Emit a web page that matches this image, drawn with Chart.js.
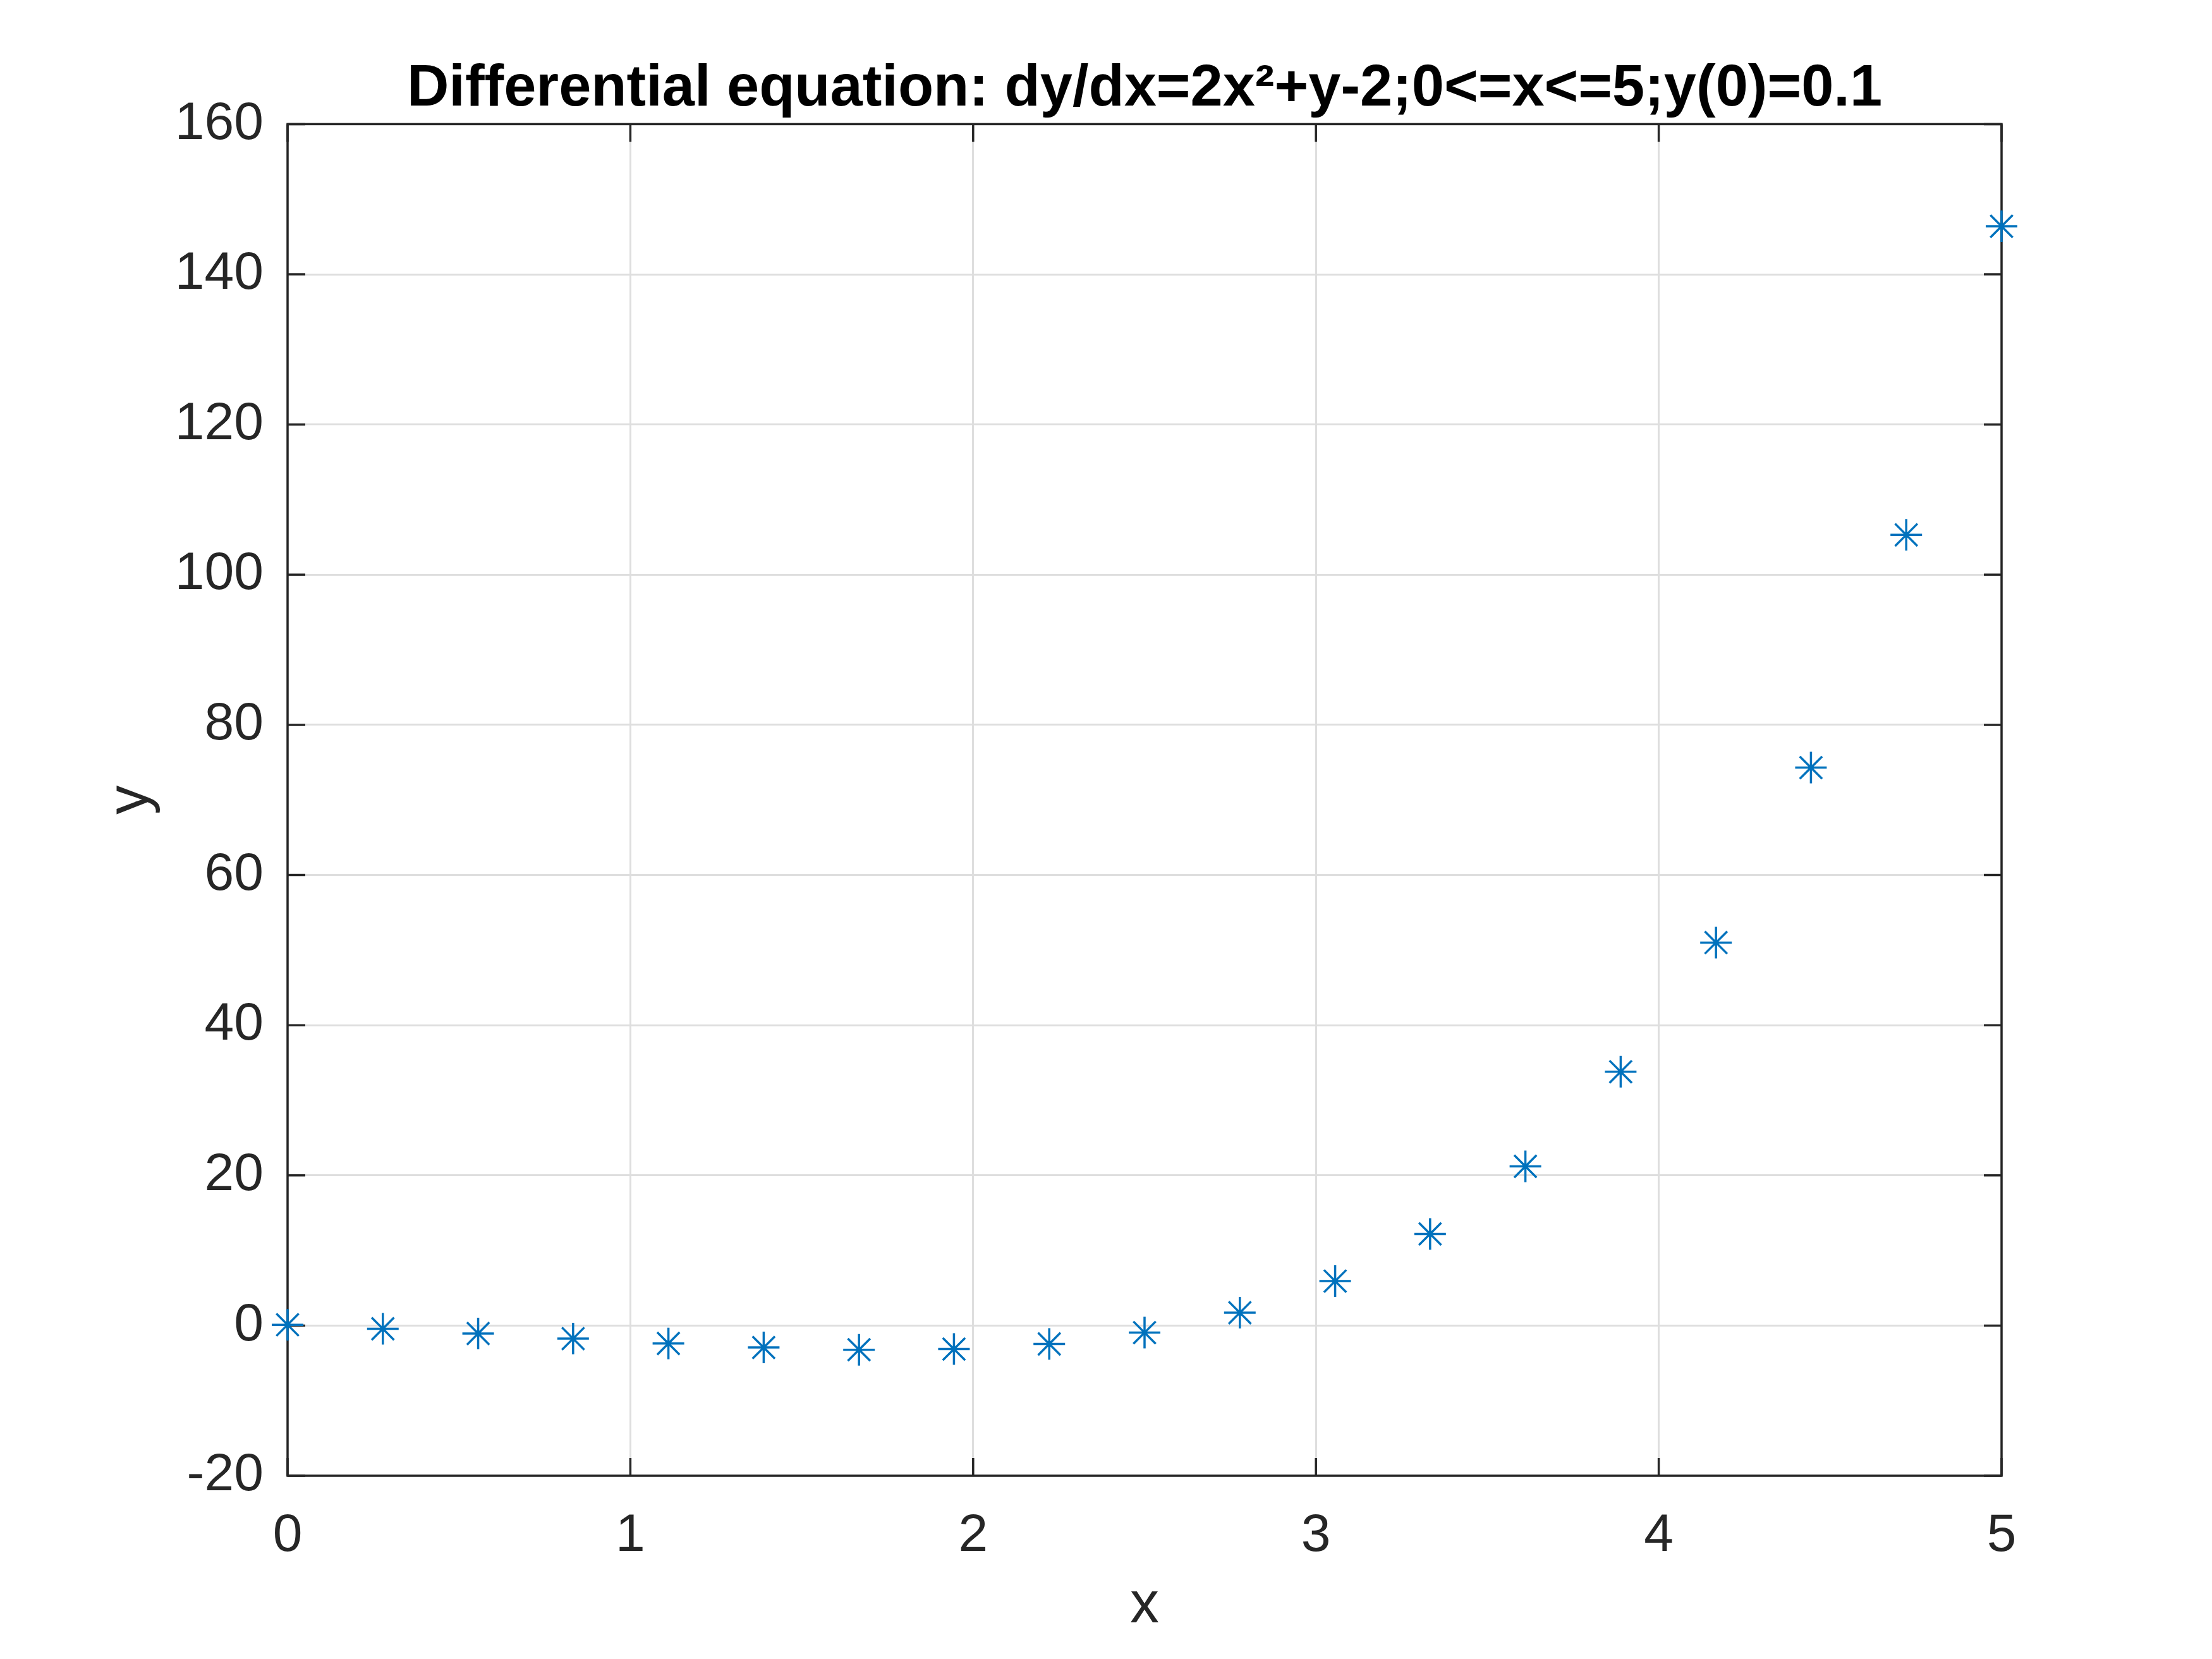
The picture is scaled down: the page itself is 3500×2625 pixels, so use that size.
<!DOCTYPE html>
<html lang="en">
<head>
    <meta charset="UTF-8">
    <title>Differential equation</title>
    <script src="https://cdn.jsdelivr.net/npm/chart.js"></script>
    <style>
        body {
            margin: 0;
            background: #fff;
        }
        canvas {
            display: block;
        }
    </style>
</head>
<body>
    <canvas id="plot" width="3500" height="2625"></canvas>
    <script>
        // values (Euler steps, h = 5/18)
        const xVals = [0, 0.278, 0.556, 0.833, 1.111, 1.389, 1.667, 1.944, 2.222, 2.5,
                       2.778, 3.056, 3.333, 3.611, 3.889, 4.167, 4.444, 4.722, 5];
        const yVals = [0.1, -0.43, -1.06, -1.74, -2.39, -2.92, -3.22, -3.13, -2.45, -0.94,
                       1.71, 5.92, 12.2, 21.2, 33.8, 51.0, 74.3, 105.3, 146.4];
        const xTicks = [0, 1, 2, 3, 4, 5];
        const yTicks = [-20, 0, 20, 40, 60, 80, 100, 120, 140, 160];
        const titleText = 'Differential equation: dy/dx=2x\u00b2+y-2;0<=x<=5;y(0)=0.1';

        const FONT = "'Liberation Sans', Arial, Helvetica, sans-serif";
        const INK = '#262626';
        const TICK = 28;

        // box round the axes with inward ticks on all four sides, like matlab
        const frame = {
            id: 'frame',
            beforeDatasetsDraw(chart) {
                const { ctx, chartArea: a, scales: { x, y } } = chart;
                ctx.save();
                ctx.strokeStyle = INK;
                ctx.lineWidth = 3.5;
                ctx.beginPath();
                xTicks.forEach(v => {
                    const px = x.getPixelForValue(v);
                    ctx.moveTo(px, a.bottom); ctx.lineTo(px, a.bottom - TICK);
                    ctx.moveTo(px, a.top); ctx.lineTo(px, a.top + TICK);
                });
                yTicks.forEach(v => {
                    const py = y.getPixelForValue(v);
                    ctx.moveTo(a.left, py); ctx.lineTo(a.left + TICK, py);
                    ctx.moveTo(a.right, py); ctx.lineTo(a.right - TICK, py);
                });
                ctx.stroke();
                ctx.strokeRect(a.left, a.top, a.right - a.left, a.bottom - a.top);
                ctx.restore();
            }
        };

        new Chart(document.getElementById('plot'), {
            type: 'scatter',
            data: {
                datasets: [{
                    data: xVals.map((x, i) => ({ x: x, y: yVals[i] })),
                    pointStyle: 'star',
                    pointRadius: 25,
                    borderColor: '#0072BD',
                    backgroundColor: '#0072BD',
                    borderWidth: 3.5,
                    showLine: false,
                    clip: false
                }]
            },
            options: {
                responsive: false,
                devicePixelRatio: 1,
                animation: false,
                events: [],
                layout: { padding: { left: 0, right: 333, top: 0, bottom: 0 } },
                plugins: {
                    legend: { display: false },
                    tooltip: { enabled: false },
                    title: {
                        display: true,
                        text: titleText,
                        fullSize: false,
                        color: '#000',
                        font: { family: FONT, size: 92, weight: 'bold' },
                        padding: { top: 86, bottom: 0 }
                    }
                },
                scales: {
                    x: {
                        type: 'linear',
                        min: 0,
                        max: 5,
                        afterBuildTicks: s => { s.ticks = xTicks.map(v => ({ value: v })); },
                        afterFit: s => { s.height = 290; },
                        border: { display: false },
                        grid: { color: '#dedede', lineWidth: 3, drawTicks: false },
                        ticks: { color: INK, padding: 45, maxRotation: 0, font: { family: FONT, size: 84 } },
                        title: {
                            display: true, text: 'x', color: INK,
                            font: { family: FONT, size: 92 },
                            padding: { top: 0, bottom: 28 }
                        }
                    },
                    y: {
                        type: 'linear',
                        min: -20,
                        max: 160,
                        afterBuildTicks: s => { s.ticks = yTicks.map(v => ({ value: v })); },
                        afterFit: s => { s.width = 455; },
                        border: { display: false },
                        grid: { color: '#dedede', lineWidth: 3, drawTicks: false },
                        ticks: { color: INK, padding: 38, font: { family: FONT, size: 84 } },
                        title: {
                            display: true, text: 'y', color: INK,
                            font: { family: FONT, size: 92 },
                            padding: { top: 153, bottom: 0 }
                        }
                    }
                }
            },
            plugins: [frame]
        });
    </script>
</body>
</html>
